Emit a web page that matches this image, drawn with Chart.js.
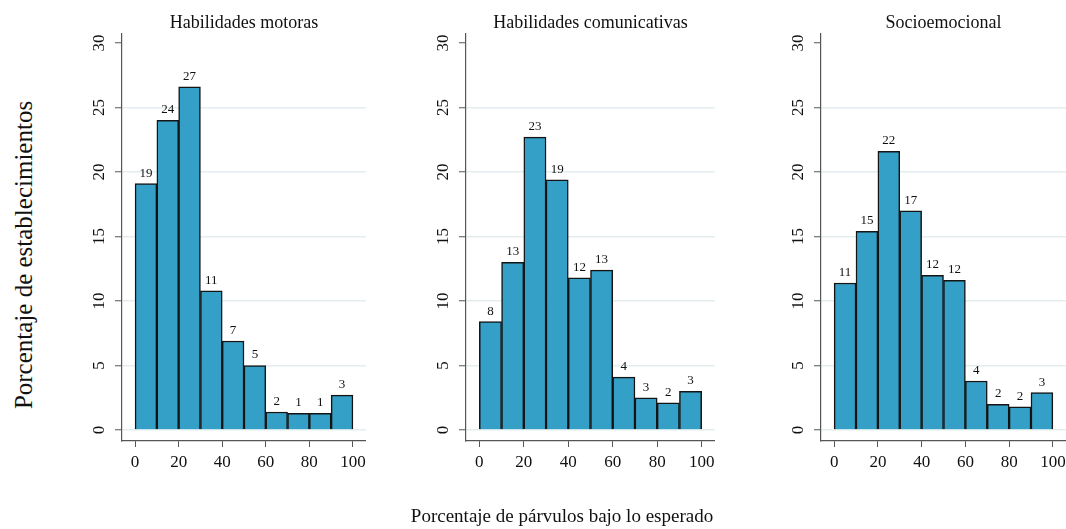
<!DOCTYPE html>
<html>
<head>
<meta charset="utf-8">
<script src="https://cdn.jsdelivr.net/npm/chart.js@4"></script>
<style>
  html, body { margin: 0; padding: 0; background: #fff; overflow: hidden; }
  body { width: 1066px; height: 529px; position: relative; font-family: "Liberation Serif", serif; }
  canvas { position: absolute; top: 0; }
  .ytitle { position: absolute; left: 24px; top: 255px; transform: translate(-50%, -50%) rotate(-90deg); font-size: 25px; white-space: nowrap; color: #111; }
  .xtitle { position: absolute; left: 562px; top: 516px; transform: translate(-50%, -50%); font-size: 19px; white-space: nowrap; color: #111; }
</style>
</head>
<body>
<canvas id="c1" width="289" height="529" style="left:77px"></canvas>
<canvas id="c2" width="294" height="529" style="left:421px"></canvas>
<canvas id="c3" width="290" height="529" style="left:776px"></canvas>
<div class="ytitle">Porcentaje de establecimientos</div>
<div class="xtitle">Porcentaje de párvulos bajo lo esperado</div>
<script>
// bins of 10 points, 0-100
const binStarts = [0, 10, 20, 30, 40, 50, 60, 70, 80, 90];
const binWidth = 10;

const panelTitles = ['Habilidades motoras', 'Habilidades comunicativas', 'Socioemocional'];

const motoras = [19.1, 24.0, 26.6, 10.8, 6.9, 5.0, 1.4, 1.3, 1.3, 2.7];
const comunicativas = [8.4, 13.0, 22.7, 19.4, 11.8, 12.4, 4.1, 2.5, 2.1, 3.0];
const socioemocional = [11.4, 15.4, 21.6, 17.0, 12.0, 11.6, 3.8, 2.0, 1.8, 2.9];

// numbers printed above bars
const motorasLabels = ['19', '24', '27', '11', '7', '5', '2', '1', '1', '3'];
const comunicativasLabels = ['8', '13', '23', '19', '12', '13', '4', '3', '2', '3'];
const socioemocionalLabels = ['11', '15', '22', '17', '12', '12', '4', '2', '2', '3'];

const xTicks = [0, 20, 40, 60, 80, 100];
const yTicks = [0, 5, 10, 15, 20, 25, 30];

const serif = '"Liberation Serif", "Times New Roman", serif';
const axisColor = '#555';

const barLabels = {
  id: 'barLabels',
  afterDatasetsDraw(chart, args, opts) {
    const ctx = chart.ctx;
    const meta = chart.getDatasetMeta(0);
    ctx.save();
    ctx.font = '13px ' + serif;
    ctx.fillStyle = '#111';
    ctx.textAlign = 'center';
    ctx.textBaseline = 'bottom';
    meta.data.forEach((bar, i) => {
      ctx.fillText(opts.labels[i], bar.x, bar.y - 4);
    });
    ctx.restore();
  }
};

const makePanel = (id, title, values, labels) => {
  const points = binStarts.map((b, i) => ({ x: b + binWidth / 2, y: values[i] }));

  new Chart(document.getElementById(id), {
    type: 'bar',
    data: {
      datasets: [{
        data: points,
        backgroundColor: '#34a0c8',
        borderColor: '#141414',
        borderWidth: 1.5,
        barPercentage: 1,
        categoryPercentage: 1
      }]
    },
    options: {
      responsive: false,
      animation: false,
      events: [],
      layout: { padding: 0 },
      plugins: {
        legend: { display: false },
        tooltip: { enabled: false },
        title: {
          display: true,
          text: title,
          fullSize: false,
          color: '#111',
          font: { family: serif, size: 18, weight: 'normal', lineHeight: 1.2 },
          padding: { top: 12, bottom: 0 }
        },
        barLabels: { labels: labels }
      },
      scales: {
        x: {
          type: 'linear',
          min: -6,
          max: 106,
          offset: false,
          afterBuildTicks: s => { s.ticks = xTicks.map(v => ({ value: v })); },
          afterFit: s => { s.height = 88; s.paddingLeft = 0; s.paddingRight = 0; },
          ticks: {
            color: '#111',
            font: { family: serif, size: 17 },
            padding: 5,
            maxRotation: 0,
            callback: v => String(v)
          },
          grid: { offset: false, drawOnChartArea: false, drawTicks: true, tickLength: 6, tickColor: axisColor, tickWidth: 1 },
          border: { display: true, color: axisColor, width: 1.2 }
        },
        y: {
          min: -0.85,
          max: 30.73,
          afterBuildTicks: s => { s.ticks = yTicks.map(v => ({ value: v })); },
          afterFit: s => { s.width = 45; s.paddingTop = 0; s.paddingBottom = 0; },
          ticks: {
            color: '#111',
            font: { family: serif, size: 17 },
            padding: 7,
            minRotation: 90,
            maxRotation: 90,
            crossAlign: 'center',
            callback: v => String(v)
          },
          grid: {
            color: c => (c.tick && c.tick.value === 30) ? 'rgba(0,0,0,0)' : '#e4eef0',
            lineWidth: 1.5,
            drawTicks: true,
            tickLength: 7,
            tickColor: axisColor,
            tickWidth: 1
          },
          border: { display: true, color: axisColor, width: 1.2 }
        }
      }
    },
    plugins: [barLabels]
  });
};

makePanel('c1', panelTitles[0], motoras, motorasLabels);
makePanel('c2', panelTitles[1], comunicativas, comunicativasLabels);
makePanel('c3', panelTitles[2], socioemocional, socioemocionalLabels);
</script>
</body>
</html>
